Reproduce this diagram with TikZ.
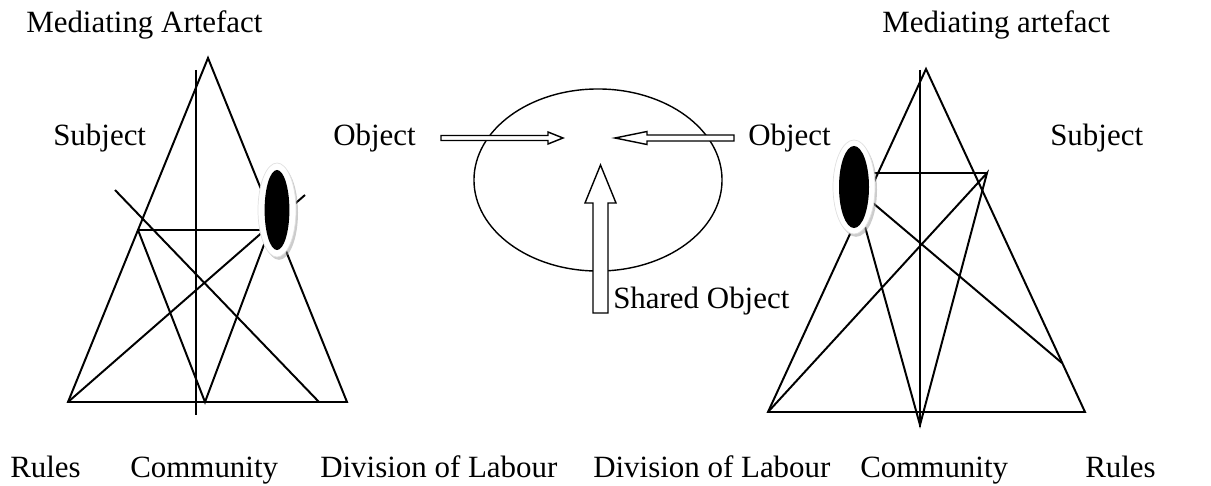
\documentclass[tikz,border=0pt]{standalone}
\usepackage{fontspec}
\setmainfont{Liberation Serif}
\usetikzlibrary{shapes.geometric, shadows}

\begin{document}
\begin{tikzpicture}[
    x=0.025cm, y=-0.025cm,
    line/.style={line width=1.4pt},
    word/.style={inner sep=0pt, anchor=base west, font=\fontsize{22}{26}\selectfont},
    ring/.style={ellipse, draw=black!12, fill=white, line width=0.5pt, inner sep=0pt,
        drop shadow={shadow xshift=0.05cm, shadow yshift=-0.07cm, fill=black!40, opacity=0.5}},
    eye/.style={ellipse, fill=black, inner sep=0pt},
    pool/.style={ellipse, draw, line width=1pt, minimum width=6.2cm, minimum height=4.55cm, inner sep=0pt},
    hollow/.style={draw, fill=white, line width=1pt}
]
    \useasboundingbox (0,0) rectangle (1211,486);

    % Left triangle
    \coordinate (la) at (208,58);
    \coordinate (lbl) at (68,402);
    \coordinate (lbr) at (347,402);
    \coordinate (lm) at (205,402);
    \coordinate (lp) at (138,230);
    \coordinate (leye) at (277,210);
    \coordinate (ltop) at (196,70);
    \coordinate (lbot) at (196,415);
    \coordinate (lcross) at (115,190);
    \coordinate (lcrossend) at (319,402);
    \coordinate (ltick) at (305,195);

    \draw[line] (lbl) -- (la) -- (lbr) -- cycle;
    \draw[line] (ltop) -- (lbot);
    \draw[line] (lp) -- (leye |- lp);
    \draw[line] (lp) -- (lm) -- (leye);
    \draw[line] (lbl) -- (ltick);
    \draw[line] (lcross) -- (lcrossend);
    \node[ring, minimum width=0.95cm, minimum height=2.35cm] (lring) at (leye) {};
    \node[eye, minimum width=0.62cm, minimum height=2cm] (lblack) at (leye) {};

    % Shared object
    \node[pool] (pool) at (598,180) {};
    \draw[hollow] (441,135.5) -- (548,135.5) -- (548,132) -- (563,138) -- (548,144) -- (548,140.5) -- (441,140.5) -- cycle;
    \draw[hollow] (734,135) -- (647,135) -- (647,131.5) -- (615,138) -- (647,144.5) -- (647,141) -- (734,141) -- cycle;
    \draw[hollow] (593,313) -- (593,203) -- (585,203) -- (600.5,165) -- (616,203) -- (608,203) -- (608,313) -- cycle;

    % Right triangle
    \coordinate (ra) at (926,69);
    \coordinate (rbl) at (768,412);
    \coordinate (rbr) at (1085,412);
    \coordinate (rm) at (920,425);
    \coordinate (rq) at (987,173);
    \coordinate (reye) at (854,187);
    \coordinate (rtop) at (920,70);
    \coordinate (rbot) at (920,427);
    \coordinate (rside) at (1062,363);

    \draw[line] (rbl) -- (ra) -- (rbr) -- cycle;
    \draw[line] (rtop) -- (rbot);
    \draw[line] (reye |- rq) -- (rq);
    \draw[line] (rbl) -- (rq) -- (rm) -- (reye);
    \draw[line] (reye) -- (rside);
    \node[ring, minimum width=1.05cm, minimum height=2.35cm] (rring) at (reye) {};
    \node[eye, minimum width=0.75cm, minimum height=2.05cm] (rblack) at (reye) {};

    % Labels
    \node[word] (lmed) at (26,33) {Mediating Artefact};
    \node[word] (rmed) at (882,33) {Mediating artefact};
    \node[word] (lsub) at (53,145) {Subject};
    \node[word] (lobj) at (333,146) {Object};
    \node[word] (robj) at (748,146) {Object};
    \node[word] (rsub) at (1050,145) {Subject};
    \node[word] (shared) at (613,308) {Shared Object};
    \node[word] (lrules) at (10,477) {Rules};
    \node[word] (lcomm) at (130,477) {Community};
    \node[word] (ldiv) at (320,477) {Division of Labour};
    \node[word] (rdiv) at (593,477) {Division of Labour};
    \node[word] (rcomm) at (860,477) {Community};
    \node[word] (rrules) at (1085,477) {Rules};
\end{tikzpicture}
\end{document}
